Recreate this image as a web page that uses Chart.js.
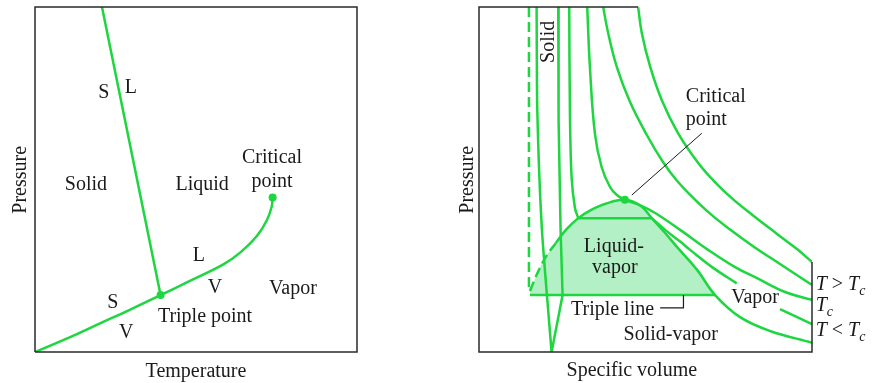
<!DOCTYPE html>
<html>
<head>
<meta charset="utf-8">
<script src="https://cdn.jsdelivr.net/npm/chart.js@4.4.0/dist/chart.umd.min.js"></script>
<style>
  html, body { margin: 0; padding: 0; background: #fff; }
  #wrap { position: relative; width: 872px; height: 383px; }
  canvas { position: absolute; top: 0; }
</style>
</head>
<body>
<div id="wrap">
  <canvas id="ptChart" width="436" height="383" style="left:0"></canvas>
  <canvas id="pvChart" width="436" height="383" style="left:436px"></canvas>
</div>
<script>
// ---- P-T diagram: [temperature, pressure], arbitrary units 0-100 ----
const fusionLine = [[20.8, 100], [39.0, 16.5]];
const sublimationCurve = [[0, 0], [10.9, 4.3], [20.2, 8.3], [29.6, 12.3], [39.0, 16.5]];
const vaporizationCurve = [[39.0, 16.5], [48.1, 20.6], [58.5, 25.4], [63.7, 28.8], [68.9, 33.6],
  [72.0, 38.2], [73.5, 42.1], [73.8, 44.8]];
const triplePoint = [39.0, 16.5];
const criticalPointPT = [73.8, 44.8];

// ---- P-v diagram: [specific volume, pressure], arbitrary units 0-100 ----
const solidLeft = [[17.3, 100], [17.5, 70.4], [18.9, 35.4], [21.8, 0]];
const solidRight = [[23.8, 100], [23.9, 67.2], [24.5, 35.4], [25.1, 16.5], [21.8, 0]];
const meltDashed = [[15.0, 100], [15.0, 18.0]];
const domeDashed = [[15.3, 17.7], [17.7, 23.2], [20.4, 28.1], [23.1, 31.6]];
const domeSolid = [[23.1, 31.6], [26.1, 35.4], [29.8, 38.8], [33.3, 41.0], [37.8, 42.9], [43.8, 44.1],
  [48.6, 42.3], [51.9, 38.8], [55.9, 34.5], [59.5, 30.4], [65.5, 23.8], [70.9, 16.5]];
const vaporBelowTriple = [[70.9, 16.5], [78.4, 10.1], [87.4, 6.1], [100, 2.7]];
const tripleLine = [[15.3, 16.5], [70.9, 16.5]];
const isothermHigh = [[47.8, 99.9], [48.9, 92.4], [51.4, 82.7], [54.9, 73.0], [59.8, 63.4], [65.9, 54.7],
  [70.4, 49.7], [75.9, 44.6], [82.4, 39.5], [89.4, 34.3], [95.4, 29.9], [100, 26.1]];
const isothermAbove = [[37.3, 99.9], [38.8, 92.4], [41.4, 82.6], [45.3, 72.6], [50.4, 62.9], [55.3, 55.0],
  [59.4, 49.7], [63.9, 45.1], [69.4, 40.1], [75.4, 35.5], [82.4, 30.6], [90.4, 25.5], [100, 19.4]];
const isothermCritical = [[32.5, 99.9], [33.3, 82.7], [34.8, 63.4], [36.8, 53.7], [39.3, 47.9], [41.4, 45.5],
  [43.8, 44.1], [48.3, 42.6], [52.9, 40.3], [60.4, 35.4], [68.8, 29.6], [76.9, 24.6], [83.5, 21.4],
  [91.9, 17.4], [100, 15.1]];
const isothermBelowLiquid = [[27.1, 100], [27.3, 70.1], [27.8, 50.8], [28.8, 41.8], [29.8, 38.8]];
const tieLine = [[29.8, 38.8], [51.9, 38.8]];
const isothermBelowVapor = [[51.9, 38.8], [55.9, 35.4], [60.4, 32.0], [63.4, 29.6], [70.0, 24.6], [77.4, 19.9]];
const isothermBelowVaporEnd = [[90.4, 12.4], [94.9, 10.4], [100, 8.1]];
const criticalPointPV = [43.8, 44.1];
const criticalLeader = [[45.9, 45.5], [66.9, 63.4]];
const tripleLeader = [[54.4, 12.8], [61.4, 12.8], [61.4, 16.5]];

const GREEN = '#1ed63f';
const FILL = '#b3f0c6';
const INK = '#1a1a1a';
const FONT = '"Liberation Serif", "Times New Roman", serif';

const pts = a => a.map(([x, y]) => ({ x, y }));

function curve(data, extra) {
  return Object.assign({
    data: pts(data), showLine: true, borderColor: GREEN, borderWidth: 2.5,
    pointRadius: 0, fill: false, tension: 0.4
  }, extra);
}

function dot(p) {
  return { data: pts([p]), pointRadius: 4, pointBackgroundColor: GREEN, pointBorderWidth: 0, showLine: false };
}

// frame + text annotations, placed in data units
const phaseText = {
  id: 'phaseText',
  afterDraw(chart, args, opts) {
    const { ctx, scales: { x, y } } = chart;
    ctx.save();
    ctx.strokeStyle = '#2a2a2a';
    ctx.lineWidth = 1.5;
    (opts.frame || []).forEach(seg => {
      ctx.beginPath();
      seg.forEach(([a, b], i) => {
        const px = x.getPixelForValue(a), py = y.getPixelForValue(b);
        i ? ctx.lineTo(px, py) : ctx.moveTo(px, py);
      });
      ctx.stroke();
    });
    ctx.fillStyle = INK;
    ctx.textBaseline = 'alphabetic';
    (opts.items || []).forEach(it => {
      const px = x.getPixelForValue(it.x), py = y.getPixelForValue(it.y);
      ctx.save();
      ctx.translate(px, py);
      if (it.rotate) ctx.rotate(it.rotate);
      if (it.parts) {
        let cx = 0;
        it.parts.forEach(([t, style]) => {
          const sub = style === 'sub';
          ctx.font = (style === 'n' ? '' : 'italic ') + (sub ? 14 : 20) + 'px ' + FONT;
          ctx.textAlign = 'left';
          ctx.fillText(t, cx, sub ? 5 : 0);
          cx += ctx.measureText(t).width;
        });
      } else {
        ctx.font = '20px ' + FONT;
        ctx.textAlign = it.align || 'center';
        ctx.fillText(it.text, 0, 0);
      }
      ctx.restore();
    });
    ctx.restore();
  }
};

function baseOptions(padding, text) {
  return {
    responsive: false,
    animation: false,
    events: [],
    layout: { padding },
    scales: {
      x: { type: 'linear', min: 0, max: 100, display: false },
      y: { type: 'linear', min: 0, max: 100, display: false }
    },
    plugins: { legend: { display: false }, tooltip: { enabled: false }, phaseText: text }
  };
}

// P-T chart
new Chart(document.getElementById('ptChart'), {
  type: 'scatter',
  data: {
    datasets: [
      dot(triplePoint),
      dot(criticalPointPT),
      curve(fusionLine, { tension: 0 }),
      curve(sublimationCurve),
      curve(vaporizationCurve)
    ]
  },
  options: baseOptions({ left: 35, right: 79, top: 7, bottom: 31 }, {
    frame: [[[0, 0], [0, 100], [100, 100], [100, 0], [0, 0]]],
    items: [
      { text: 'S', x: 21.4, y: 73.5 },
      { text: 'L', x: 29.8, y: 75.0 },
      { text: 'Solid', x: 15.8, y: 47.0 },
      { text: 'Liquid', x: 51.9, y: 47.0 },
      { text: 'Critical', x: 73.6, y: 54.7 },
      { text: 'point', x: 73.6, y: 47.9 },
      { text: 'L', x: 50.9, y: 26.4 },
      { text: 'V', x: 55.9, y: 17.2 },
      { text: 'Vapor', x: 80.1, y: 16.8 },
      { text: 'S', x: 24.2, y: 12.7 },
      { text: 'Triple point', x: 52.8, y: 8.8 },
      { text: 'V', x: 28.3, y: 4.0 },
      { text: 'Temperature', x: 50, y: -7.2 },
      { text: 'Pressure', x: -2.8, y: 49.9, rotate: -Math.PI / 2 }
    ]
  }),
  plugins: [phaseText]
});

// P-v chart
new Chart(document.getElementById('pvChart'), {
  type: 'scatter',
  data: {
    datasets: [
      dot(criticalPointPV),
      curve(criticalLeader, { borderColor: INK, borderWidth: 1, tension: 0 }),
      curve(tripleLeader, { borderColor: INK, borderWidth: 1.2, tension: 0 }),
      curve(isothermHigh),
      curve(isothermAbove),
      curve(isothermCritical),
      curve(isothermBelowLiquid),
      curve(tieLine, { tension: 0 }),
      curve(isothermBelowVapor),
      curve(isothermBelowVaporEnd),
      curve(domeSolid.concat(vaporBelowTriple.slice(1))),
      curve(domeDashed, { borderDash: [10, 5] }),
      curve(meltDashed, { borderDash: [10, 5], tension: 0 }),
      curve(solidLeft, { tension: 0.2 }),
      curve(solidRight, { tension: 0 }),
      curve(tripleLine, { tension: 0 }),
      curve(domeDashed.concat(domeSolid.slice(1)), {
        borderWidth: 0, borderColor: 'rgba(0,0,0,0)', backgroundColor: FILL,
        fill: { value: 16.5 }, order: 10
      })
    ]
  },
  options: baseOptions({ left: 43, right: 60, top: 7, bottom: 31 }, {
    frame: [[[47.8, 100], [0, 100], [0, 0], [100, 0], [100, 26.1]]],
    items: [
      { text: 'Solid', x: 22.6, y: 89.9, rotate: -Math.PI / 2 },
      { text: 'Critical', x: 62.1, y: 72.6, align: 'left' },
      { text: 'point', x: 62.1, y: 65.8, align: 'left' },
      { text: 'Liquid-', x: 40.5, y: 29.1 },
      { text: 'vapor', x: 40.8, y: 22.8 },
      { text: 'Triple line', x: 40.1, y: 10.7 },
      { text: 'Solid-vapor', x: 57.6, y: 3.5 },
      { text: 'Vapor', x: 82.9, y: 14.1 },
      { x: 101.1, y: 18.0, parts: [['T', 'i'], [' > ', 'n'], ['T', 'i'], ['c', 'sub']] },
      { x: 101.1, y: 11.9, parts: [['T', 'i'], ['c', 'sub']] },
      { x: 101.1, y: 4.6, parts: [['T', 'i'], [' < ', 'n'], ['T', 'i'], ['c', 'sub']] },
      { text: 'Specific volume', x: 45.9, y: -7.0 },
      { text: 'Pressure', x: -1.9, y: 49.9, rotate: -Math.PI / 2 }
    ]
  }),
  plugins: [phaseText]
});
</script>
</body>
</html>
